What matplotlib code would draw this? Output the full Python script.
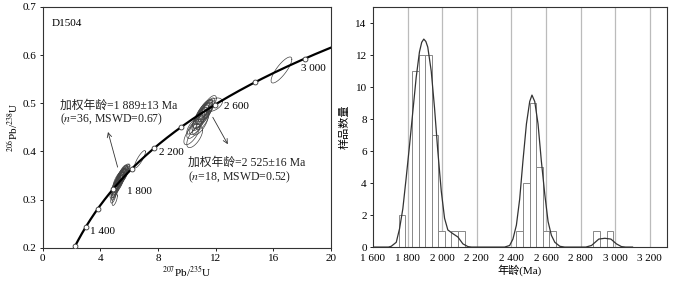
import numpy as np
import matplotlib.pyplot as plt
from matplotlib.ticker import FuncFormatter, MultipleLocator

plt.rcParams['font.family'] = ['Liberation Serif', 'Noto Sans CJK SC']
plt.rcParams['mathtext.fontset'] = 'stix'
plt.rcParams['font.size'] = 8

# decay constants (per Ma)
L238 = 1.55125e-4
L235 = 9.8485e-4

# concordia markers (Ma), labelled ones
marker_ages = [1200, 1400, 1600, 1800, 2000, 2200, 2400, 2600, 2800, 3000]
label_ages = [1400, 1800, 2200, 2600, 3000]
label_pos = [(3.3, 0.235), (5.85, 0.318), (8.1, 0.397), (12.55, 0.494), (17.95, 0.572)]

# error ellipses: x (207/235), y (206/238), x half-width, y half-height, rho
ell_x = [4.95, 5.05, 5.10, 5.15, 5.20, 5.22, 5.28, 5.30, 5.33, 5.35, 5.38, 5.40, 5.42, 5.45, 5.48,
         5.50, 5.52, 5.55, 5.58, 5.62, 5.65, 5.70, 5.12, 5.25, 5.35, 4.90, 4.95, 5.00, 5.85, 5.05,
         6.75,
         10.35, 10.5, 10.55, 10.7, 10.8, 10.9, 10.95, 11.0, 11.05, 11.1, 11.15, 11.2, 11.25, 11.3,
         11.35, 11.4, 11.5, 11.55, 11.85, 10.95, 11.1, 10.4,
         16.57]
ell_y = [0.318, 0.325, 0.330, 0.334, 0.336, 0.340, 0.338, 0.343, 0.340, 0.346, 0.344, 0.348, 0.342,
         0.350, 0.346, 0.352, 0.348, 0.355, 0.350, 0.356, 0.353, 0.358, 0.326, 0.332, 0.336, 0.305,
         0.312, 0.300, 0.362, 0.318,
         0.384,
         0.436, 0.447, 0.430, 0.455, 0.462, 0.468, 0.474, 0.470, 0.480, 0.476, 0.484, 0.478, 0.488,
         0.482, 0.490, 0.486, 0.492, 0.496, 0.497, 0.458, 0.465, 0.452,
         0.569]
ell_ex = [0.28, 0.30, 0.32, 0.28, 0.30, 0.34, 0.28, 0.30, 0.32, 0.28, 0.30, 0.32, 0.28, 0.30, 0.34,
          0.30, 0.28, 0.32, 0.30, 0.28, 0.32, 0.30, 0.30, 0.32, 0.30, 0.18, 0.20, 0.18, 0.20, 0.24,
          0.38,
          0.55, 0.50, 0.55, 0.50, 0.45, 0.50, 0.45, 0.55, 0.45, 0.50, 0.45, 0.55, 0.45, 0.50,
          0.45, 0.50, 0.45, 0.50, 0.62, 0.55, 0.45, 0.40,
          0.72]
ell_ey = [0.015, 0.016, 0.017, 0.015, 0.016, 0.018, 0.015, 0.016, 0.017, 0.015, 0.016, 0.017, 0.016,
          0.015, 0.018, 0.016, 0.015, 0.017, 0.016, 0.015, 0.017, 0.016, 0.016, 0.018, 0.016, 0.012,
          0.013, 0.012, 0.012, 0.014,
          0.018,
          0.022, 0.020, 0.022, 0.020, 0.019, 0.020, 0.018, 0.022, 0.019, 0.020, 0.018, 0.022, 0.019,
          0.020, 0.018, 0.020, 0.019, 0.020, 0.014, 0.024, 0.020, 0.016,
          0.027]
ell_rho = [0.70, 0.70, 0.72, 0.70, 0.71, 0.72, 0.70, 0.72, 0.71, 0.70, 0.72, 0.71, 0.70, 0.72, 0.72,
           0.70, 0.71, 0.72, 0.70, 0.71, 0.72, 0.70, 0.70, 0.71, 0.72, 0.65, 0.65, 0.65, 0.70, 0.70,
           0.85,
           0.70, 0.70, 0.65, 0.72, 0.72, 0.72, 0.72, 0.70, 0.72, 0.72, 0.72, 0.70, 0.72, 0.72,
           0.72, 0.72, 0.72, 0.72, 0.45, 0.70, 0.70, 0.75,
           0.82]

# histogram (age, Ma)
bar_left = [1750, 1826, 1864, 1902, 1940, 1978, 2054, 2092,
            2429, 2467, 2505, 2543, 2581, 2619, 2872, 2950]
bar_h = [2, 11, 12, 12, 7, 1, 1, 1, 1, 4, 9, 5, 1, 1, 1, 1]
bar_w = 38

# probability density curve
kde_age = [1600, 1690, 1706, 1735, 1754, 1773, 1792, 1812, 1831, 1850, 1869, 1882, 1894, 1906, 1917,
           1937, 1956, 1975, 1995, 2014, 2033, 2062, 2091, 2120, 2149, 2170, 2340, 2361, 2390, 2409,
           2429, 2448, 2467, 2487, 2506, 2519, 2535, 2554, 2573, 2593, 2612, 2631, 2651, 2680, 2708,
           2830, 2863, 2882, 2905, 2940, 2975, 3007, 3036, 3060, 3100]
kde_val = [0, 0, 0.05, 0.3, 1.15, 2.4, 4.3, 6.4, 8.5, 10.6, 12.2, 12.8, 13.0, 12.85, 12.5,
           11.0, 8.7, 6.0, 3.5, 1.8, 1.07, 0.84, 0.63, 0.2, 0.03, 0, 0, 0, 0.1, 0.5,
           1.37, 3.0, 5.4, 7.7, 9.1, 9.5, 9.1, 7.7, 5.4, 3.3, 1.6, 0.74, 0.3, 0.05, 0,
           0, 0.1, 0.28, 0.5, 0.55, 0.5, 0.2, 0.03, 0, 0]


def sep(v, pos=None):
    s = "%d" % v
    if len(s) > 3:
        s = s[:-3] + " " + s[-3:]
    return s


fig = plt.figure(figsize=(6.78, 2.84), dpi=100)
ax1 = fig.add_axes([0.063, 0.127, 0.425, 0.849])
ax2 = fig.add_axes([0.550, 0.130, 0.434, 0.845])

# ---- concordia
t = np.linspace(1100, 3400, 400)
ax1.plot(np.exp(L235 * t) - 1, np.exp(L238 * t) - 1, color="black", lw=1.6, zorder=3)

th = np.linspace(0, 2 * np.pi, 80)
for x, y, ex, ey, r in zip(ell_x, ell_y, ell_ex, ell_ey, ell_rho):
    ex_pts = x + ex * np.cos(th)
    ey_pts = y + ey * (r * np.cos(th) + np.sqrt(1 - r * r) * np.sin(th))
    ax1.plot(ex_pts, ey_pts, color="#444444", lw=0.5, zorder=2)

ma = np.array(marker_ages)
ax1.plot(np.exp(L235 * ma) - 1, np.exp(L238 * ma) - 1, "o", ms=3.5, mfc="white",
         mec="#333333", mew=0.6, zorder=4)
for a, (tx, ty) in zip(label_ages, label_pos):
    ax1.text(tx, ty, sep(a), fontsize=8, va="center", ha="left")

ax1.text(0.6, 0.666, "D1504", fontsize=8, va="center")
ax1.text(1.2, 0.495, "加权年龄=1 889±13 Ma", fontsize=8.5, va="center", color="#222222")
ax1.text(1.2, 0.467, "($\\it{n}$=36, MSWD=0.67)", fontsize=8.5, va="center", color="#222222")
ax1.text(10.1, 0.376, "加权年龄=2 525±16 Ma", fontsize=8.5, va="center", color="#222222")
ax1.text(10.1, 0.347, "($\\it{n}$=18, MSWD=0.52)", fontsize=8.5, va="center", color="#222222")
ax1.annotate("", xy=(4.48, 0.446), xytext=(5.25, 0.362),
             arrowprops=dict(arrowstyle="->", lw=0.6, color="#333333"))
ax1.annotate("", xy=(12.94, 0.41), xytext=(11.71, 0.476),
             arrowprops=dict(arrowstyle="->", lw=0.6, color="#333333"))

ax1.set_xlim(0, 20)
ax1.set_ylim(0.2, 0.7)
ax1.xaxis.set_major_locator(MultipleLocator(4))
ax1.yaxis.set_major_locator(MultipleLocator(0.1))
ax1.yaxis.set_major_formatter(FuncFormatter(lambda v, p: "%.1f" % v))
ax1.set_xlabel("$^{207}$Pb/$^{235}$U", fontsize=8, labelpad=1)
ax1.set_ylabel("$^{206}$Pb/$^{238}$U", fontsize=8, labelpad=2)
ax1.tick_params(labelsize=8, length=2.5, width=0.6, pad=2)

# ---- histogram
for gx in range(1800, 3201, 200):
    ax2.axvline(gx, color="#bbbbbb", lw=0.9, zorder=0)
ax2.bar(bar_left, bar_h, width=bar_w, align="edge", facecolor="white",
        edgecolor="#888888", lw=0.7, zorder=2)
ax2.plot(kde_age, kde_val, color="#333333", lw=0.9, zorder=3)
ax2.set_xlim(1600, 3300)
ax2.set_ylim(0, 15)
ax2.set_xticks(range(1600, 3201, 200))
ax2.xaxis.set_major_formatter(FuncFormatter(sep))
ax2.yaxis.set_major_locator(MultipleLocator(2))
ax2.set_xlabel("年龄(Ma)", fontsize=8, labelpad=1)
ax2.set_ylabel("样品数量", fontsize=8, labelpad=4)
ax2.tick_params(labelsize=8, length=2.5, width=0.6, pad=2)
ax2.tick_params(axis="x", length=0, pad=5)

for ax in (ax1, ax2):
    for s in ax.spines.values():
        s.set_linewidth(0.8)
        s.set_color("#333333")

fig.savefig("out.png", dpi=100)
